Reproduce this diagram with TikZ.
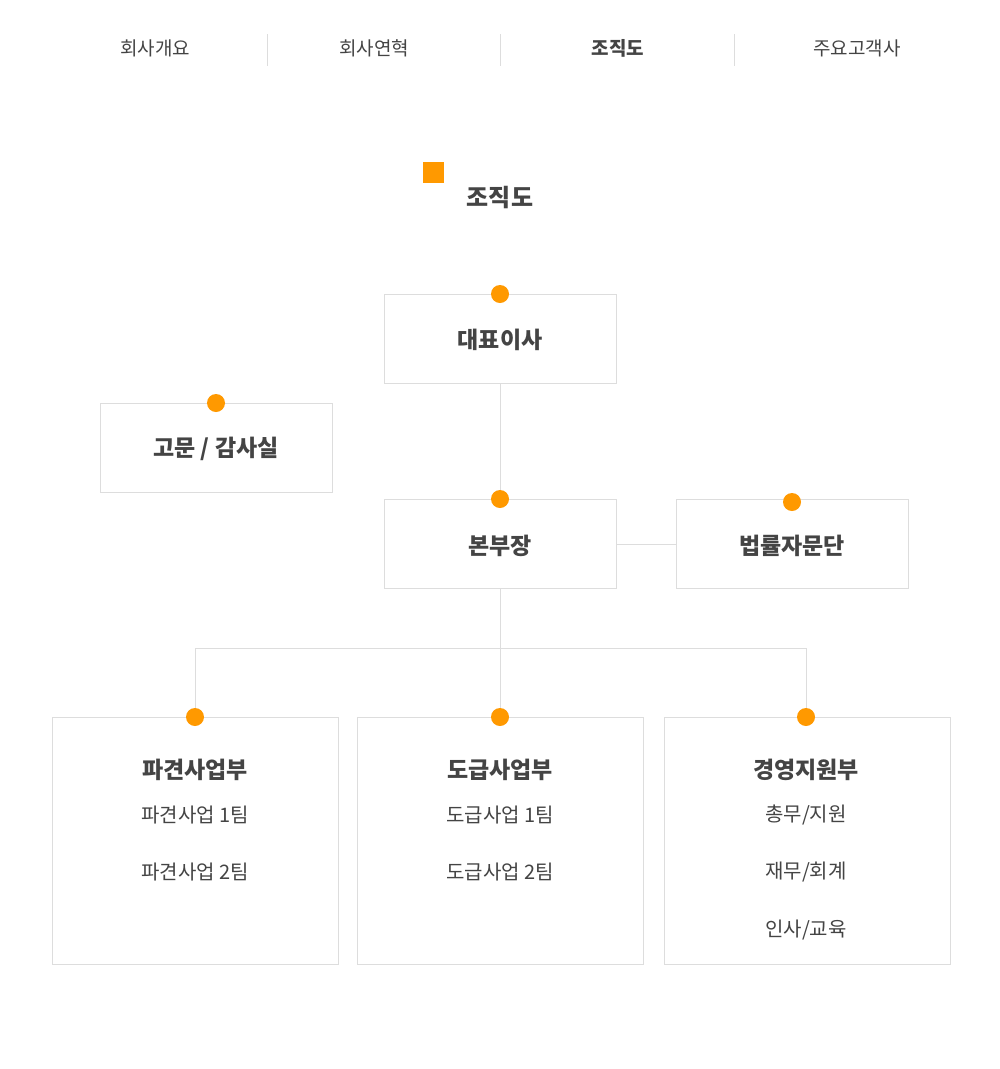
\documentclass[tikz,border=0pt]{standalone}
\usepackage{fontspec}
\setmainfont{Noto Sans CJK KR}
\usetikzlibrary{positioning}
\definecolor{dotorange}{RGB}{255, 153, 0}
\definecolor{linegray}{RGB}{221, 221, 221}
\definecolor{textgray}{RGB}{68, 68, 68}
\tikzset{
  orgbox/.style={draw=linegray, line width=1pt, fill=white, inner sep=0pt},
  orgdot/.style={circle, fill=dotorange, minimum size=18pt, inner sep=0pt},
  navtext/.style={font=\fontsize{19}{22}\selectfont, text=textgray},
  headtext/.style={font=\fontsize{23}{26}\selectfont\bfseries, text=textgray},
  subtext/.style={font=\fontsize{20}{24}\selectfont, text=textgray}
}
\begin{document}
\begin{tikzpicture}[x=1pt, y=-1pt]
    \useasboundingbox[fill=white] (0,0) rectangle (1000,1069);
    % navigation
    \node[navtext] (nav1) at (155,48) {회사개요};
    \node[navtext] (nav2) at (374,48) {회사연혁};
    \node[navtext, font=\fontsize{19}{22}\selectfont\bfseries] (nav3) at (618,48) {조직도};
    \node[navtext] (nav4) at (857,48) {주요고객사};
    \foreach \x in {267,500,734}
        \draw[linegray, line width=1pt] (\x,34) -- (\x,66);
    % title
    \fill[dotorange] (423,162) rectangle (444,183);
    \node[headtext, font=\fontsize{24}{28}\selectfont\bfseries] (title) at (500,198) {조직도};
    % boxes
    \draw[orgbox] (384,294) rectangle (616,383);
    \node[headtext] (ceo) at (500,340) {대표이사};
    \draw[orgbox] (100,403) rectangle (332,492);
    \node[headtext] (audit) at (216,449) {고문 / 감사실};
    \draw[orgbox] (384,499) rectangle (616,588);
    \node[headtext] (hq) at (500,546) {본부장};
    \draw[orgbox] (676,499) rectangle (908,588);
    \node[headtext] (legal) at (792,546) {법률자문단};
    \draw[orgbox] (52,717) rectangle (338,964);
    \draw[orgbox] (357,717) rectangle (643,964);
    \draw[orgbox] (664,717) rectangle (950,964);
    \node[headtext] (dispatch) at (195,770) {파견사업부};
    \node[subtext] (dispatch1) at (195,815) {파견사업 1팀};
    \node[subtext] (dispatch2) at (195,872) {파견사업 2팀};
    \node[headtext] (contract) at (500,770) {도급사업부};
    \node[subtext] (contract1) at (500,815) {도급사업 1팀};
    \node[subtext] (contract2) at (500,872) {도급사업 2팀};
    \node[headtext] (support) at (806,770) {경영지원부};
    \node[subtext] (support1) at (806,815) {총무/지원};
    \node[subtext] (support2) at (806,872) {재무/회계};
    \node[subtext] (support3) at (806,930) {인사/교육};
    % connectors
    \coordinate (ceoS) at (500,383);
    \coordinate (hqN) at (500,499);
    \coordinate (hqE) at (616,544);
    \coordinate (legalW) at (676,544);
    \coordinate (hqS) at (500,588);
    \coordinate (split) at (500,648);
    \draw[linegray, line width=1pt] (ceoS) -- (hqN);
    \draw[linegray, line width=1pt] (hqE) -- (legalW);
    \draw[linegray, line width=1pt] (hqS) -- (split);
    \draw[linegray, line width=1pt] (195,717) |- (split) -| (806,717);
    \draw[linegray, line width=1pt] (split) -- (500,717);
    % dots
    \foreach \name/\x/\y in {d1/500/294, d2/216/403, d3/500/499, d4/792/502, d5/195/717, d6/500/717, d7/806/717}
        \node[orgdot] (\name) at (\x,\y) {};
\end{tikzpicture}
\end{document}
